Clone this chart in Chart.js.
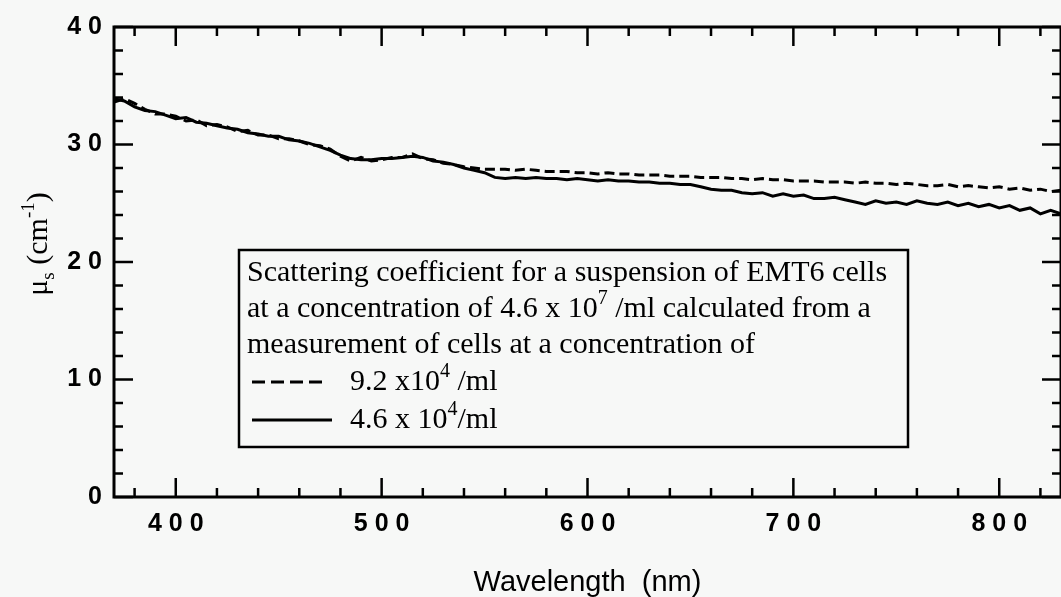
<!DOCTYPE html>
<html>
<head>
<meta charset="utf-8">
<script src="https://cdn.jsdelivr.net/npm/chart.js@4.4.0/dist/chart.umd.min.js"></script>
<style>
html, body { margin: 0; padding: 0; background: #f7f8f7; }
canvas { display: block; }
</style>
</head>
<body>
<canvas id="grafica" width="1061" height="597"></canvas>
<script>
// longitud de onda (nm)
const longitudes = [370,375,380,385,390,395,400,405,410,415,420,425,430,435,440,445,450,455,460,465,
  470,475,480,485,490,495,500,505,510,515,520,525,530,535,540,545,550,555,560,565,
  570,575,580,585,590,595,600,605,610,615,620,625,630,635,640,645,650,655,660,665,
  670,675,680,685,690,695,700,705,710,715,720,725,730,735,740,745,750,755,760,765,
  770,775,780,785,790,795,800,805,810,815,820,825,830];

// mu_s (cm-1), medida a 9.2 x10^4 /ml (linea discontinua)
const mu92 = [33.6,33.9,33.5,33.0,32.6,32.6,32.4,32.0,32.1,31.6,31.7,31.5,31.1,31.2,30.8,30.8,30.5,30.5,30.3,30.0,
  29.9,29.6,29.0,28.6,28.9,28.6,28.7,28.9,28.9,29.2,28.8,28.7,28.4,28.3,28.1,28.0,27.9,27.9,27.9,27.8,
  27.9,27.8,27.7,27.7,27.7,27.6,27.6,27.5,27.6,27.5,27.5,27.4,27.4,27.4,27.3,27.3,27.3,27.2,27.2,27.2,
  27.1,27.1,27.0,27.1,27.0,27.0,26.9,26.9,26.9,26.8,26.8,26.8,26.7,26.8,26.7,26.7,26.6,26.7,26.6,26.5,
  26.5,26.6,26.4,26.5,26.4,26.3,26.4,26.2,26.3,26.1,26.2,26.0,26.1];

// mu_s (cm-1), medida a 4.6 x 10^4 /ml (linea continua)
const mu46 = [33.9,33.7,33.2,32.9,32.8,32.5,32.2,32.3,31.9,31.8,31.6,31.4,31.3,31.0,30.9,30.7,30.7,30.4,30.3,30.1,
  29.8,29.5,29.1,28.8,28.7,28.7,28.8,28.8,28.9,29.0,28.9,28.6,28.5,28.3,28.0,27.8,27.6,27.2,27.1,27.2,
  27.1,27.2,27.1,27.1,27.0,27.1,27.0,26.9,27.0,26.9,26.9,26.8,26.8,26.7,26.7,26.6,26.6,26.4,26.2,26.1,
  26.1,25.9,25.8,25.9,25.6,25.8,25.6,25.7,25.4,25.4,25.5,25.3,25.1,24.9,25.2,25.0,25.1,24.9,25.2,25.0,
  24.9,25.1,24.8,25.0,24.7,24.9,24.6,24.8,24.4,24.6,24.1,24.4,24.1];

const ticksX = [400, 500, 600, 700, 800];
const ticksY = [0, 10, 20, 30, 40];
const menorX = 20;   // paso de las marcas menores
const menorY = 2;

const tituloX = 'Wavelength  (nm)';
const tituloY = [['μ', ''], ['s', 'sub'], [' (cm', ''], ['-1', 'sup'], [')', '']];

const leyendaTexto = [
  [['Scattering coefficient for a suspension of EMT6 cells', '']],
  [['at a concentration of 4.6 x 10', ''], ['7', 'sup'], [' /ml calculated from a', '']],
  [['measurement of cells at a concentration of', '']]
];
const leyendaSeries = [
  [['9.2 x10', ''], ['4', 'sup'], [' /ml', '']],
  [['4.6 x 10', ''], ['4', 'sup'], ['/ml', '']]
];

const serif = '"Liberation Serif", "Times New Roman", serif';
const sans = '"Liberation Sans", Arial, sans-serif';

const espaciar = v => String(v).split('').join(' ');

function escribir(ctx, x, y, partes, grande, chico) {
  for (const [texto, tipo] of partes) {
    ctx.font = (tipo ? chico : grande) + 'px ' + serif;
    let dy = 0;
    if (tipo === 'sup') dy = -grande * 0.42;
    if (tipo === 'sub') dy = grande * 0.22;
    ctx.fillText(texto, x, y + dy);
    x += ctx.measureText(texto).width;
  }
  return x;
}

function anchoTexto(ctx, partes, grande, chico) {
  let w = 0;
  for (const [texto, tipo] of partes) {
    ctx.font = (tipo ? chico : grande) + 'px ' + serif;
    w += ctx.measureText(texto).width;
  }
  return w;
}

// marco con marcas hacia dentro en los cuatro lados
const marcoEjes = {
  id: 'marcoEjes',
  afterDatasetsDraw(chart) {
    const {ctx, chartArea: a, scales: {x, y}} = chart;
    ctx.save();
    ctx.strokeStyle = '#000';
    ctx.lineWidth = 2.5;
    ctx.beginPath();
    for (let v = Math.ceil(x.min / menorX) * menorX; v <= x.max; v += menorX) {
      const px = x.getPixelForValue(v);
      const largo = ticksX.includes(v) ? 19 : 9;
      ctx.moveTo(px, a.bottom); ctx.lineTo(px, a.bottom - largo);
      ctx.moveTo(px, a.top); ctx.lineTo(px, a.top + largo);
    }
    for (let v = y.min; v <= y.max; v += menorY) {
      const py = y.getPixelForValue(v);
      const largo = ticksY.includes(v) ? 19 : 9;
      ctx.moveTo(a.left, py); ctx.lineTo(a.left + largo, py);
      ctx.moveTo(a.right, py); ctx.lineTo(a.right - largo, py);
    }
    ctx.stroke();
    ctx.lineWidth = 3;
    ctx.strokeRect(a.left, a.top, a.right - a.left, a.bottom - a.top);
    ctx.restore();
  }
};

const leyenda = {
  id: 'leyenda',
  afterDraw(chart) {
    const ctx = chart.ctx;
    const caja = {x: 239, y: 250, w: 669, h: 197};
    ctx.save();
    ctx.fillStyle = '#f7f8f7';
    ctx.fillRect(caja.x, caja.y, caja.w, caja.h);
    ctx.strokeStyle = '#000';
    ctx.lineWidth = 2.5;
    ctx.strokeRect(caja.x, caja.y, caja.w, caja.h);
    ctx.fillStyle = '#000';
    ctx.textBaseline = 'alphabetic';
    ctx.textAlign = 'left';
    const bases = [281, 317, 353];
    leyendaTexto.forEach((partes, i) => escribir(ctx, 247, bases[i], partes, 30, 20));
    const basesSerie = [390, 428];
    const largos = [71, 80];
    chart.data.datasets.forEach((ds, i) => {
      ctx.beginPath();
      ctx.lineWidth = 3;
      ctx.setLineDash(ds.borderDash && ds.borderDash.length ? [13, 6] : []);
      ctx.moveTo(252, basesSerie[i] - 8);
      ctx.lineTo(252 + largos[i], basesSerie[i] - 8);
      ctx.stroke();
      ctx.setLineDash([]);
      escribir(ctx, 350, basesSerie[i], leyendaSeries[i], 30, 20);
    });
    ctx.restore();
  }
};

const rotuloY = {
  id: 'rotuloY',
  afterDraw(chart) {
    const ctx = chart.ctx;
    ctx.save();
    ctx.fillStyle = '#000';
    ctx.textBaseline = 'alphabetic';
    ctx.translate(47, 244);
    ctx.rotate(-Math.PI / 2);
    const w = anchoTexto(ctx, tituloY, 30, 19);
    escribir(ctx, -w / 2, 0, tituloY, 30, 19);
    ctx.restore();
  }
};

const puntos = serie => longitudes.map((x, i) => ({x: x, y: serie[i]}));

new Chart(document.getElementById('grafica'), {
  type: 'line',
  data: {
    datasets: [
      {
        label: '9.2 x10^4 /ml',
        data: puntos(mu92),
        borderColor: '#000',
        borderWidth: 3,
        borderDash: [10, 5],
        pointRadius: 0,
        tension: 0
      },
      {
        label: '4.6 x 10^4 /ml',
        data: puntos(mu46),
        borderColor: '#000',
        borderWidth: 3,
        pointRadius: 0,
        tension: 0
      }
    ]
  },
  options: {
    responsive: false,
    animation: false,
    devicePixelRatio: 1,
    layout: { padding: { top: 21, right: -2, left: 0, bottom: 0 } },
    plugins: { legend: { display: false }, tooltip: { enabled: false } },
    scales: {
      x: {
        type: 'linear',
        min: 370,
        max: 830,
        grid: { display: false, drawTicks: false },
        border: { display: false },
        afterBuildTicks: s => { s.ticks = ticksX.map(v => ({value: v})); },
        afterFit: s => { s.height = 100; },
        ticks: {
          color: '#000',
          padding: 12,
          maxRotation: 0,
          font: { family: sans, size: 25, weight: 'bold' },
          callback: espaciar
        },
        title: {
          display: true,
          text: tituloX,
          color: '#000',
          font: { family: sans, size: 29, lineHeight: 1 },
          padding: { top: 0, bottom: 0 }
        }
      },
      y: {
        min: 0,
        max: 40,
        grid: { display: false, drawTicks: false },
        border: { display: false },
        afterBuildTicks: s => { s.ticks = ticksY.map(v => ({value: v})); },
        afterFit: s => { s.width = 114; },
        ticks: {
          color: '#000',
          padding: 12,
          font: { family: sans, size: 25, weight: 'bold' },
          callback: espaciar
        }
      }
    }
  },
  plugins: [marcoEjes, leyenda, rotuloY]
});
</script>
</body>
</html>
